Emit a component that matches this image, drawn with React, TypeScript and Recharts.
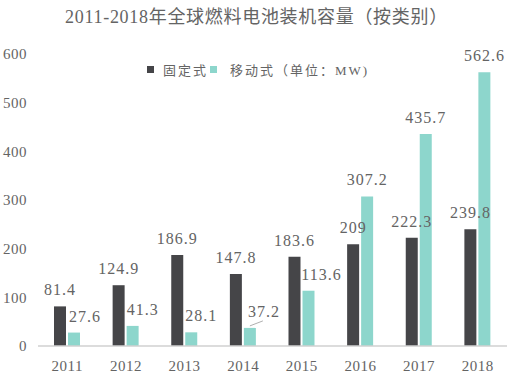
import React from "react";
import { BarChart, Bar, XAxis, YAxis, LabelList } from "recharts";

const years = ["2011", "2012", "2013", "2014", "2015", "2016", "2017", "2018"];
const fixedValues = [81.4, 124.9, 186.9, 147.8, 183.6, 209, 222.3, 239.8];
const mobileValues = [27.6, 41.3, 28.1, 37.2, 113.6, 307.2, 435.7, 562.6];
const yTicks = [0, 100, 200, 300, 400, 500, 600];
const seriesNames = ["固定式", "移动式（单位：MW)"];
const titleText = "2011-2018年全球燃料电池装机容量（按类别）";

// label placement tweaks (styling only)
const mobileLabelDx = [11, 10, 10, 14, 13, 0, 0, 0];
const mobileLeader = [false, false, false, true, false, false, false, false];

const DARK = "#454548";
const TEAL = "#8dd6cc";
const TEXT = "#646464";
const NUM_FONT = "'Times New Roman', 'Liberation Serif', 'DejaVu Serif', serif";
const MIX_FONT = "'Times New Roman', 'Liberation Serif', 'Noto Sans CJK SC', serif";

const data = years.map((y, i) => ({
  year: y,
  fixed: fixedValues[i],
  mobile: mobileValues[i],
}));

const fmt = (v: number) => String(v);

const FixedLabel = (props: any) => {
  const { x, y, width, value } = props;
  const cx = x + width / 2;
  return (
    <text
      x={cx}
      y={y - 11}
      textAnchor="middle"
      fill={TEXT}
      style={{ fontFamily: NUM_FONT, fontSize: 16, letterSpacing: 1 }}
    >
      {fmt(value)}
    </text>
  );
};

const MobileLabel = (props: any) => {
  const { x, y, width, value, index } = props;
  const bx = x + width / 2;
  const dx = mobileLabelDx[index] || 0;
  const cx = bx + dx;
  return (
    <g>
      {mobileLeader[index] ? (
        <line x1={bx} y1={y - 2} x2={bx + 13} y2={y - 7} stroke="#9a9a9a" strokeWidth={0.8} />
      ) : null}
      <text
        x={cx}
        y={y - 11}
        textAnchor="middle"
        fill={TEXT}
        style={{ fontFamily: NUM_FONT, fontSize: 16, letterSpacing: 1 }}
      >
        {fmt(value)}
      </text>
    </g>
  );
};

export default function App() {
  return (
    <div
      style={{
        position: "absolute",
        left: 0,
        top: 0,
        width: 525,
        height: 391,
        background: "#ffffff",
        overflow: "hidden",
      }}
    >
      <div
        style={{
          position: "absolute",
          left: 0,
          top: 4,
          width: 513,
          textAlign: "center",
          fontFamily: MIX_FONT,
          fontSize: 18,
          letterSpacing: 0.7,
          color: TEXT,
          lineHeight: "26px",
        }}
      >
        {titleText}
      </div>
      <div
        style={{
          position: "absolute",
          left: 147,
          top: 60,
          height: 18,
          display: "flex",
          alignItems: "center",
          fontFamily: MIX_FONT,
          fontSize: 13,
          letterSpacing: 2,
          color: TEXT,
          whiteSpace: "nowrap",
        }}
      >
        <span style={{ display: "inline-block", width: 7, height: 7, background: DARK, marginRight: 9 }} />
        <span>{seriesNames[0]}</span>
        <span style={{ display: "inline-block", width: 7, height: 7, background: TEAL, marginLeft: 2, marginRight: 13 }} />
        <span>{seriesNames[1]}</span>
      </div>
      <BarChart
        width={525}
        height={391}
        data={data}
        margin={{ top: 54, right: 18, left: 0, bottom: 15 }}
        barSize={12}
        barGap={2}
      >
        <XAxis
          dataKey="year"
          axisLine={{ stroke: "#d0d0d0", strokeWidth: 1.5 }}
          tickLine={false}
          tickMargin={8}
          height={30}
          tick={{ fill: TEXT, fontSize: 15, fontFamily: NUM_FONT, letterSpacing: 0.5 }}
        />
        <YAxis
          domain={[0, 600]}
          ticks={yTicks}
          width={38}
          axisLine={false}
          tickLine={false}
          tickMargin={5}
          interval={0}
          tick={{ fill: TEXT, fontSize: 15, fontFamily: NUM_FONT, letterSpacing: 0.5 }}
        />
        <Bar dataKey="fixed" fill={DARK} isAnimationActive={false}>
          <LabelList dataKey="fixed" content={FixedLabel} />
        </Bar>
        <Bar dataKey="mobile" fill={TEAL} isAnimationActive={false}>
          <LabelList dataKey="mobile" content={MobileLabel} />
        </Bar>
      </BarChart>
    </div>
  );
}
